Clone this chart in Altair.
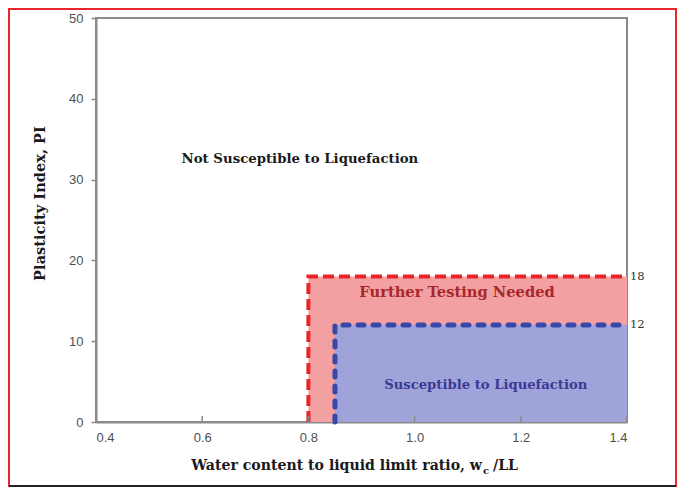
import altair as alt
import pandas as pd

# ---- data ----
x_ticks = [0.4, 0.6, 0.8, 1.0, 1.2, 1.4]
y_ticks = [0, 10, 20, 30, 40, 50]

further_x = [0.8, 0.8, 1.4]          # red dashed boundary (PI <= 18, wc/LL >= 0.8)
further_y = [0, 18, 18]
suscept_x = [0.85, 0.85, 1.4]        # blue dashed boundary (PI <= 12, wc/LL >= 0.85)
suscept_y = [0, 12, 12]

zones = pd.DataFrame({
    "zone": ["Further Testing Needed", "Susceptible to Liquefaction"],
    "x0": [0.8, 0.85], "x1": [1.4, 1.4], "y0": [0, 0], "y1": [18, 12],
})

labels = pd.DataFrame({
    "text": ["Not Susceptible to Liquefaction", "Further Testing Needed", "Susceptible to Liquefaction"],
    "x": [0.784, 1.08, 1.134],
    "y": [32.5, 16.0, 4.6],
    "color": ["#1a1a1a", "#a8282c", "#3a3a92"],
    "size": [13.3, 14.7, 13.2],
})

limit_labels = pd.DataFrame({"text": ["18", "12"], "x": [1.4, 1.4], "y": [18, 12]})

red_line = pd.DataFrame({"x": further_x, "y": further_y, "o": [0, 1, 2]})
blue_line = pd.DataFrame({"x": suscept_x, "y": suscept_y, "o": [0, 1, 2]})
ticks_df = pd.DataFrame({"t": x_ticks})
one = pd.DataFrame({"a": [0]})

GRAY = "#8a8a8a"
SERIF = "DejaVu Serif"
SANS = "Liberation Sans"

xs = alt.Scale(domain=[0.4, 1.4], nice=False, zero=False)
ys = alt.Scale(domain=[0, 50], nice=False)

x_axis = alt.Axis(values=x_ticks, format=".1f", ticks=False, grid=False, title=None,
                  labelFont=SANS, labelFontSize=13, labelColor="#505050", labelPadding=9,
                  domainColor=GRAY, domainWidth=2)
y_axis = alt.Axis(values=y_ticks, grid=False, title="Plasticity Index, PI",
                  labelFont=SANS, labelFontSize=13, labelColor="#505050", labelPadding=8,
                  tickSize=5, tickColor=GRAY, tickWidth=1.5,
                  domainColor=GRAY, domainWidth=2,
                  titleFont=SERIF, titleFontSize=14.6, titleFontWeight="bold", titleColor="#1a1a1a",
                  titleX=-56, titleY=185, titleAngle=270, titleAlign="center", titleBaseline="middle")

zone_rects = alt.Chart(zones).mark_rect(opacity=1).encode(
    x=alt.X("x0:Q", scale=xs, axis=x_axis),
    x2="x1:Q",
    y=alt.Y("y0:Q", scale=ys, axis=y_axis),
    y2="y1:Q",
    color=alt.Color("zone:N", scale=alt.Scale(domain=list(zones["zone"]), range=["#f3a0a2", "#a0a3da"]),
                    legend=None),
)

red = alt.Chart(red_line).mark_line(color="#e8242a", strokeWidth=4, strokeDash=[11, 5]).encode(
    x=alt.X("x:Q", scale=xs), y=alt.Y("y:Q", scale=ys), order="o:Q")
blue = alt.Chart(blue_line).mark_line(color="#3848a8", strokeWidth=5, strokeDash=[6, 9],
                                      strokeCap="round").encode(
    x=alt.X("x:Q", scale=xs), y=alt.Y("y:Q", scale=ys), order="o:Q")

in_ticks = alt.Chart(ticks_df).mark_rule(color=GRAY, strokeWidth=1.5).encode(
    x=alt.X("t:Q", scale=xs), y=alt.value(404), y2=alt.value(398))

texts = alt.Chart(labels).mark_text(font=SERIF, fontWeight="bold", baseline="middle").encode(
    x=alt.X("x:Q", scale=xs), y=alt.Y("y:Q", scale=ys), text="text:N",
    color=alt.Color("color:N", scale=None), size=alt.Size("size:Q", scale=None))

lim_texts = alt.Chart(limit_labels).mark_text(font=SERIF, fontSize=11.5, align="left", dx=3,
                                              baseline="middle", color="#333333").encode(
    x=alt.X("x:Q", scale=xs), y=alt.Y("y:Q", scale=ys), text="text:N")

# x-axis title with subscript c
xt1 = alt.Chart(one).mark_text(text="Water content to liquid limit ratio, w", font=SERIF, fontSize=14.1,
                               fontWeight="bold", align="right", baseline="alphabetic",
                               color="#1a1a1a").encode(x=alt.value(386), y=alt.value(452))
xt2 = alt.Chart(one).mark_text(text="c", font=SERIF, fontSize=10, fontWeight="bold", align="left",
                               baseline="alphabetic", color="#1a1a1a").encode(x=alt.value(387), y=alt.value(456))
xt3 = alt.Chart(one).mark_text(text="/LL", font=SERIF, fontSize=14.1, fontWeight="bold", align="left",
                               baseline="alphabetic", color="#1a1a1a").encode(x=alt.value(397), y=alt.value(452))

frame = alt.Chart(one).mark_rect(filled=False, stroke="#e8262c", strokeWidth=2).encode(
    x=alt.value(-87), x2=alt.value(580), y=alt.value(-9), y2=alt.value(468))
bottom = alt.Chart(one).mark_rule(color="#222222", strokeWidth=2).encode(
    x=alt.value(-87), x2=alt.value(580), y=alt.value(468))

chart = alt.layer(zone_rects, red, blue, in_ticks, texts, lim_texts, xt1, xt2, xt3, frame, bottom).properties(
    width=531, height=404,
    autosize=alt.AutoSizeParams(type="none"),
    padding={"left": 88, "top": 10, "right": 50, "bottom": 65},
    background="white",
).configure_view(stroke=GRAY, strokeWidth=2)

chart.save("out.html", embed_options={"renderer": "svg", "actions": False})
